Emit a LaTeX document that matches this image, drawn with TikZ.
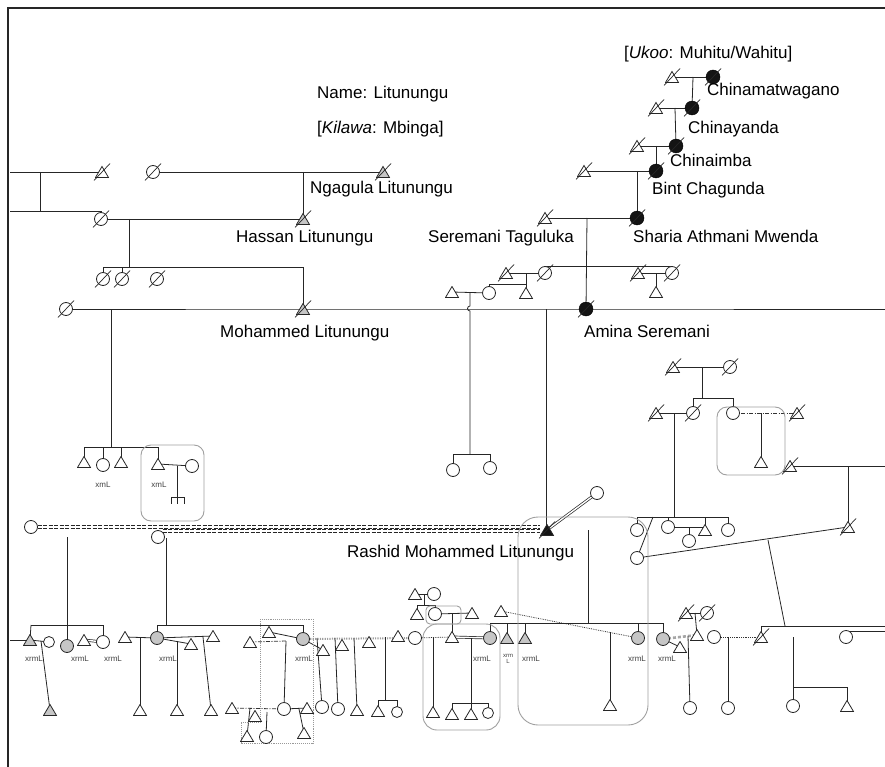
\documentclass[tikz,border=0pt]{standalone}
\usepackage{fontspec}
\setmainfont{Liberation Sans}
\usetikzlibrary{backgrounds}
\begin{document}
\begin{tikzpicture}[x=1pt,y=-1pt,
  ln/.style={draw=black!85, line width=0.8pt},
  tri/.style={minimum width=14pt, minimum height=12pt, inner sep=0pt, outer sep=0pt,
    path picture={\filldraw[draw=black!85, fill=#1, line width=0.8pt]
      ([shift={(0.5pt,0.5pt)}]path picture bounding box.south west) --
      ([shift={(-0.5pt,0.5pt)}]path picture bounding box.south east) --
      ([shift={(0pt,-0.5pt)}]path picture bounding box.north) -- cycle;}},
  tri/.default=white,
  circ/.style={circle, draw=black!85, line width=0.8pt, fill=#1, minimum size=13pt, inner sep=0pt, outer sep=0pt},
  circ/.default=white,
  blk/.style={circle, draw=black, fill=black!92, minimum size=14pt, inner sep=0pt},
  slash/.style={draw=black!85, line width=0.7pt},
  lbl/.style={font=\fontsize{17}{20}\selectfont, anchor=base west, inner sep=0pt, text=black},
  smalllbl/.style={font=\fontsize{8}{9}\selectfont, inner sep=0pt, text=black!75},
  gbox/.style={draw=gray!75, line width=0.9pt},
  dbl/.style={draw=black!85, double=white, double distance=1.4pt, line width=0.7pt},
  dashln/.style={draw=black!85, line width=0.8pt, dash pattern=on 4pt off 1.5pt},
  dotl/.style={draw=black!80, line width=0.8pt, densely dotted},
  thickdot/.style={draw=gray!75, line width=2pt, dash pattern=on 1.2pt off 1.2pt},
  thickdash/.style={draw=gray!70, line width=2.6pt, dash pattern=on 3pt off 2pt},
  dashdot/.style={draw=black!80, line width=0.8pt, dash pattern=on 4pt off 1.5pt on 1pt off 1.5pt},
]
\useasboundingbox (0,0) rectangle (885,767);
\draw[line width=1.3pt, black!85] (8,767) -- (8,8) -- (885,8);

% ---------- people ----------
% top left
\node[tri] (t1) at (102,172) {};
\node[circ] (c1) at (153,172) {};
\node[tri=gray!45] (ngagula) at (383,172) {};
\node[circ] (c2) at (101,219) {};
\node[tri=gray!45] (hassan) at (303,219) {};
\node[circ] (c3) at (103,279) {};
\node[circ] (c4) at (122,279) {};
\node[circ] (c5) at (157,279) {};
\node[circ] (c6) at (66,309) {};
\node[tri=gray!45] (moh) at (303,309) {};
% top right
\node[tri] (t2) at (672,77) {};
\node[blk] (b1) at (713,77) {};
\node[tri] (t3) at (656,108) {};
\node[blk] (b2) at (692,108) {};
\node[tri] (t4) at (637,146) {};
\node[blk] (b3) at (676,146) {};
\node[tri] (t5) at (584,171) {};
\node[blk] (b4) at (656,171) {};
\node[tri] (t6) at (545,218) {};
\node[blk] (b5) at (637,218) {};
\node[blk] (amina) at (586,309) {};
% middle
\node[circ] (c7) at (545,273) {};
\node[circ] (c8) at (672,273) {};
\node[tri] (t7) at (506,273) {};
\node[tri] (t8) at (526,293) {};
\node[circ] (c9) at (489,293) {};
\node[tri] (t9) at (452,292) {};
\node[circ] (c10) at (453,470) {};
\node[circ] (c11) at (490,468) {};
\node[tri] (t10) at (638,273) {};
\node[tri] (t11) at (656,292) {};
% left middle
\node[tri] (t53) at (84,462) {};
\node[circ] (c40) at (103,465) {};
\node[tri] (t54) at (121,462) {};
\node[tri] (t55) at (158,464) {};
\node[circ] (c41) at (192,466) {};
% right middle
\node[tri] (t12) at (673,367) {};
\node[circ] (c12) at (730,367) {};
\node[circ] (c13) at (693,413) {};
\node[circ] (c14) at (733,413) {};
\node[tri] (t13) at (656,413) {};
\node[tri] (t14) at (797,413) {};
\node[tri] (t15) at (761,462) {};
\node[tri] (t16) at (790,466) {};
\node[tri] (t17) at (848,527) {};
% Rashid
\node[tri=black!92] (rashid) at (547,530) {};
\node[circ] (c15) at (597,493) {};
\node[circ] (c16) at (637,530) {};
\node[circ] (c17) at (637,558) {};
\node[circ] (c18) at (668,527) {};
\node[tri] (t18) at (705,530) {};
\node[circ] (c19) at (728,530) {};
\node[circ] (c20) at (689,541) {};
\node[circ] (c21) at (31,527) {};
\node[circ] (c22) at (158,537) {};
% bottom left
\node[tri=gray!45] (tg1) at (30,640) {};
\node[circ, minimum size=11pt] (c23) at (49,642) {};
\node[tri=gray!45] (tg2) at (50,710) {};
\node[circ=gray!45] (gc0) at (67,646) {};
\node[tri] (t19) at (84,640) {};
\node[circ] (c24) at (103,642) {};
\node[tri] (t20) at (125,637) {};
\node[circ=gray!45] (gc1) at (157,638) {};
\node[tri] (t21) at (140,710) {};
\node[tri] (t22) at (191,644) {};
\node[tri] (t23) at (177,710) {};
\node[tri] (t24) at (213,636) {};
\node[tri] (t25) at (211,710) {};
\node[circ=gray!45] (gc2) at (303,639) {};
% dotted cluster
\node[tri] (t26) at (250,642) {};
\node[tri] (t27) at (269,632) {};
\node[circ] (c25) at (284,709) {};
\node[tri] (t28) at (232,708) {};
\node[tri] (t29) at (255,716) {};
\node[tri] (t30) at (247,736) {};
\node[circ] (c26) at (266,737) {};
\node[tri] (t31) at (307,708) {};
\node[tri] (t32) at (304,733) {};
\node[tri] (t33) at (323,650) {};
\node[tri] (t34) at (342,645) {};
\node[tri] (t35) at (369,642) {};
\node[tri] (t36) at (398,636) {};
\node[circ] (c27) at (415,638) {};
\node[circ] (c28) at (322,707) {};
\node[circ] (c29) at (338,709) {};
\node[tri] (t37) at (357,710) {};
\node[tri] (t38) at (378,711) {};
\node[circ, minimum size=11pt] (c30) at (397,712) {};
% middle bottom
\node[tri] (t39) at (415,594) {};
\node[circ] (c31) at (434,594) {};
\node[tri] (t40) at (417,614) {};
\node[circ] (c32) at (435,614) {};
\node[tri] (t41) at (472,613) {};
\node[tri] (t42) at (452,637) {};
\node[tri] (t43) at (433,712) {};
\node[circ=gray!45] (gc3) at (490,638) {};
\node[tri] (t44) at (452,714) {};
\node[tri] (t45) at (471,714) {};
\node[circ, minimum size=11pt] (c33) at (488,713) {};
\node[tri] (t46) at (501,611) {};
\node[tri=gray!45] (tg3) at (507,638) {};
\node[tri=gray!45] (tg4) at (525,638) {};
\node[circ=gray!45] (gc4) at (638,638) {};
\node[tri] (t47) at (610,705) {};
\node[circ=gray!45] (gc5) at (663,639) {};
% bottom right
\node[tri] (t48) at (686,613) {};
\node[circ] (c34) at (707,613) {};
\node[tri] (t49) at (697,635) {};
\node[tri] (t50) at (680,647) {};
\node[circ] (c35) at (690,708) {};
\node[circ] (c36) at (714,637) {};
\node[tri] (t51) at (761,637) {};
\node[circ] (c37) at (728,708) {};
\node[circ] (c38) at (846,637) {};
\node[circ] (c39) at (793,706) {};
\node[tri] (t52) at (847,706) {};

% deceased slashes
\foreach \n in {t1,c1,ngagula,c2,hassan,c3,c4,c5,c6,moh,t2,b1,t3,b2,t4,b3,t5,b4,t6,b5,amina,
  c7,c8,t7,t10,t12,c12,c13,t13,t14,t16,t17,rashid,t48,c34,t51}
  \draw[slash] ([shift={(-8pt,-8.5pt)}]\n.center) -- ([shift={(8pt,8.5pt)}]\n.center);

% ---------- connectors ----------
\begin{pgfonlayer}{background}
\draw[ln] (10,172) -- (t1.center);
\draw[ln] (40,172) -- (40,211);
\draw[ln] (10,211) -| (c2.center);
\draw[ln] (c1.center) -- (ngagula.center);
\draw[ln] (303,172) -- (hassan.center);
\draw[ln] (c2.center) -- (hassan.center);
\draw[ln] (129,219) -- (129,267);
\draw[ln] (103,267) -- (303,267);
\draw[ln] (103,267) -- (c3.center);
\draw[ln] (122,267) -- (c4.center);
\draw[ln] (303,267) -- (moh.center);
\draw[ln] (c6.center) -- (moh.center) -- (amina.center) -- (885,309);
\draw[ln] (111,309) -- (111,447);
\draw[ln] (84,447) -- (158,447);
\draw[ln] (84,447) -- (t53.center);
\draw[ln] (103,447) -- (c40.center);
\draw[ln] (121,447) -- (t54.center);
\draw[ln] (158,447) -- (t55.center);
\draw[ln] (t55.center) -- (c41.center);
\draw[ln] (177,466) -- (177,497);
\draw[ln] (171,497) -- (184,497);
\draw[ln] (171,497) -- (171,504) (177.5,497) -- (177.5,504) (184,497) -- (184,504);
% top right
\draw[ln] (t2.center) -- (b1.center);
\draw[ln] (693,77) -- (b2.center);
\draw[ln] (t3.center) -- (b2.center);
\draw[ln] (675,108) -- (b3.center);
\draw[ln] (t4.center) -- (b3.center);
\draw[ln] (656,146) -- (b4.center);
\draw[ln] (t5.center) -- (b4.center);
\draw[ln] (637,171) -- (b5.center);
\draw[ln] (t6.center) -- (b5.center);
\draw[ln] (587,218) -- (amina.center);
% middle
\draw[ln] (c7.north) -- (c8.north);
\draw[ln] (t7.center) -- (c7.center);
\draw[ln] (526,273) -- (t8.center);
\draw[ln] (526,284) -| (c9.center);
\draw[ln] (t9.center) -- (c9.center);
\draw[ln] (470,292) -- (470,306) arc[start angle=90, end angle=270, radius=2.5pt] -- (470,454);
\draw[ln] (453,454) -- (490,454);
\draw[ln] (453,454) -- (c10.center);
\draw[ln] (490,454) -- (c11.center);
\draw[ln] (t10.center) -- (c8.center);
\draw[ln] (656,273) -- (t11.center);
% right middle
\draw[ln] (t12.center) -- (c12.center);
\draw[ln] (702,367) -- (702,398);
\draw[ln] (693,398) -- (733,398);
\draw[ln] (693,398) -- (c13.center);
\draw[ln] (733,398) -- (c14.center);
\draw[ln] (t13.center) -- (c13.center);
\draw[ln] (674,413) -- (674,517);
\draw[dashdot] (c14.center) -- (t14.center);
\draw[ln] (761,413) -- (t15.center);
\draw[ln] (t16.center) -- (885,466);
\draw[ln] (848,466) -- (t17.center);
% Rashid
\draw[ln] (546,309) -- (546,525);
\draw[dbl] (c15.center) -- (rashid.center);
\draw[dbl] (rashid.center) -- (c16.center);
\draw[ln] (588,530) -- (588,623);
\draw[ln] (637,517) -- (728,517);
\draw[ln] (637,517) -- (c16.center);
\draw[ln] (653,517) -- (c17.center);
\draw[ln] (668,517) -- (c18.center);
\draw[ln] (705,517) -- (t18.center);
\draw[ln] (728,517) -- (c19.center);
\draw[ln] (c18.center) -- (705,527);
\draw[ln] (689,527) -- (c20.center);
\draw[ln] (c17.center) -- (t17.center);
\draw[ln] (768,540) -- (785,626);
% double dashed descent lines to Rashid
\draw[dashln] ([yshift=1.6pt]c21.east) -- ([yshift=1.6pt]c21.east -| rashid.west);
\draw[dashln] ([yshift=-1.6pt]c21.east) -- ([yshift=-1.6pt]c21.east -| rashid.west);
\draw[dashln] ([shift={(0pt,3.2pt)}]c22.north east) -- ([shift={(0pt,3.2pt)}]c22.north east -| rashid.west);
\draw[dashln] ([shift={(0pt,0pt)}]c22.north east) -- ([shift={(0pt,0pt)}]c22.north east -| rashid.west);
% bottom left
\draw[ln] (10,640) -- (tg1.center);
\draw[ln] (tg1.center) -- (c23.center);
\draw[ln] (41,641) -- (tg2.center);
\draw[ln] (67,537) -- (gc0.center);
\draw[ln] (31,625) -- (103,625);
\draw[ln] (31,625) -- (tg1.center);
\draw[ln] (103,625) -- (c24.center);
\draw[dbl] (t19.center) -- (c24.center);
\draw[ln] (166,538) -- (166,625);
\draw[ln] (157,625) -- (303,625);
\draw[ln] (157,625) -- (gc1.center);
\draw[ln] (303,625) -- (gc2.center);
\draw[ln] (t20.center) -- (gc1.center);
\draw[ln] (140,638) -- (t21.center);
\draw[ln] (gc1.center) -- (t22.center);
\draw[ln] (177,641) -- (t23.center);
\draw[ln] (gc1.center) -- (t24.center);
\draw[ln] (203,637) -- (t25.center);
% dotted cluster
\draw[ln] (t27.center) -- (gc2.center);
\draw[dashdot] (t26.center) -- (286,641);
\draw[ln] (286,641) -- (c25.center);
\draw[dashdot] (t28.center) -- (c25.center);
\draw[ln] (250,708) -- (t30.center);
\draw[ln] (267,712) -- (c26.center);
\draw[ln] (c25.center) -- (t31.center);
\draw[ln] (299,709) -- (t32.center);
\draw[thickdot] (gc2.center) -- (c27.center);
\draw[ln] (gc2.center) -- (t33.center);
\draw[ln] (317,638) -- (c28.center);
\draw[ln] (335,638) -- (c29.center);
\draw[ln] (354,638) -- (t37.center);
\draw[ln] (385,637) -- (385,700);
\draw[ln] (378,700) -- (397,700);
\draw[ln] (378,700) -- (t38.center);
\draw[ln] (397,700) -- (c30.center);
\draw[densely dotted, gray!80, line width=0.9pt] (260,619) -- (313,619) -- (313,743) -- (241,743) -- (241,722) -- (260,722) -- cycle;
% middle bottom
\draw[ln] (t39.center) -- (c31.center);
\draw[ln] (424,594) -- (424,605);
\draw[ln] (417,605) -- (435,605);
\draw[ln] (417,605) -- (t40.center);
\draw[ln] (435,605) -- (c32.center);
\draw[ln] (c32.center) -- (t41.center);
\draw[ln] (452,614) -- (t42.center);
\draw[dotl] (c27.center) -- (t42.center);
\draw[ln] (433,638) -- (t43.center);
\draw[dbl] (t42.center) -- (gc3.center);
\draw[ln] (471,638) -- (471,703);
\draw[ln] (452,703) -- (488,703);
\draw[ln] (452,703) -- (t44.center);
\draw[ln] (471,703) -- (t45.center);
\draw[ln] (488,703) -- (c33.center);
\draw[dotl] (t46.center) -- (gc4.center);
\draw[ln] (610,632) -- (t47.center);
\draw[ln] (490,623) -- (663,623);
\draw[ln] (490,623) -- (gc3.center);
\draw[ln] (507,623) -- (tg3.center);
\draw[ln] (525,623) -- (tg4.center);
\draw[ln] (638,623) -- (gc4.center);
\draw[ln] (663,623) -- (gc5.center);
% bottom right
\draw[ln] (t48.center) -- (c34.center);
\draw[ln] (695,613) -- (t49.center);
\draw[thickdash] (gc5.center) -- (t49.center);
\draw[ln] (gc5.center) -- (t50.center);
\draw[ln] (688,636) -- (c35.center);
\draw[dotl] (c36.center) -- (t51.center);
\draw[ln] (728,637) -- (c37.center);
\draw[dbl] (t51.center) -- (c38.center);
\draw[ln] (761,626) -- (t51.center);
\draw[ln] (761,626) -- (885,626);
\draw[ln] (846,631) -- (885,631);
\draw[ln] (793,637) -- (c39.center);
\draw[ln] (793,687) -| (t52.center);
\end{pgfonlayer}

% boxes
\draw[gbox, rounded corners=10pt] (141,445) rectangle (204,521);
\draw[gbox, rounded corners=10pt] (717,407) rectangle (785,475);
\draw[gbox, rounded corners=20pt] (518,517) rectangle (648,725);
\draw[gbox, rounded corners=4pt] (426,606) rectangle (461,624);
\draw[gbox, rounded corners=14pt] (423,624) rectangle (500,730);

% ---------- texts ----------
\node[lbl] (tname) at (317,99) {Name: Litunungu};
\node[lbl] (tkil) at (317,134) {[\textit{Kilawa}: Mbinga]};
\node[lbl] (tukoo) at (624,59) {[\textit{Ukoo}: Muhitu/Wahitu]};
\node[lbl] (lngag) at (310,194) {Ngagula Litunungu};
\node[lbl] (lhass) at (236,243) {Hassan Litunungu};
\node[lbl] (lmoh) at (220,337) {Mohammed Litunungu};
\node[lbl] (lcm) at (707,96) {Chinamatwagano};
\node[lbl] (lcy) at (688,134) {Chinayanda};
\node[lbl] (lci) at (670,167) {Chinaimba};
\node[lbl] (lbint) at (652,195) {Bint Chagunda};
\node[lbl] (lsere) at (428,243) {Seremani Taguluka};
\node[lbl] (lshar) at (633,243) {Sharia Athmani Mwenda};
\node[lbl] (lamina) at (584,337) {Amina Seremani};
\node[lbl] (lrash) at (347,557) {Rashid Mohammed Litunungu};

\node[smalllbl] (x1) at (103,485) {xmL};
\node[smalllbl] (x2) at (159,485) {xmL};
\node[smalllbl] (x3) at (34,659) {xrmL};
\node[smalllbl] (x4) at (80,659) {xrmL};
\node[smalllbl] (x5) at (113,659) {xrmL};
\node[smalllbl] (x6) at (168,659) {xrmL};
\node[smalllbl] (x7) at (304,659) {xrmL};
\node[smalllbl] (x8) at (482,659) {xrmL};
\node[smalllbl, font=\fontsize{6}{6}\selectfont, align=center] (x9) at (508,659) {xrm\\L};
\node[smalllbl] (x10) at (531,659) {xrmL};
\node[smalllbl] (x11) at (637,659) {xrmL};
\node[smalllbl] (x12) at (667,659) {xrmL};
\end{tikzpicture}
\end{document}
